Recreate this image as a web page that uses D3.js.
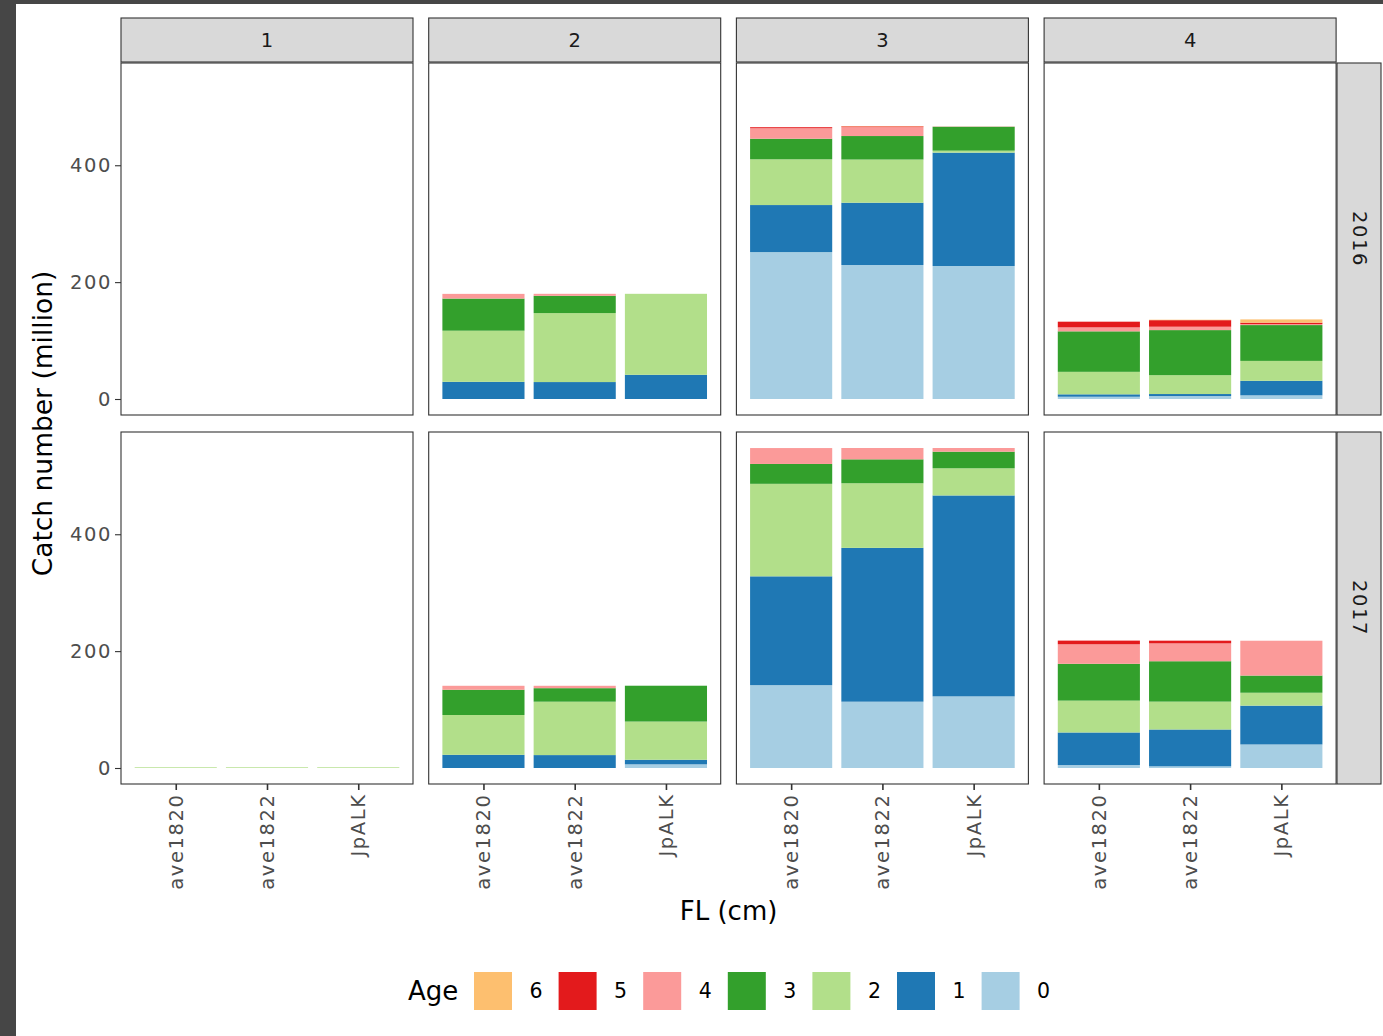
<!DOCTYPE html>
<html>
<head>
<meta charset="utf-8">
<script src="https://cdn.jsdelivr.net/npm/d3@7"></script>
<style>
  html, body { margin: 0; padding: 0; background: #464646; }
  svg { display: block; }
  text { font-family: "DejaVu Sans", "Noto Sans CJK JP", sans-serif; }
</style>
</head>
<body>
<svg id="chart" width="1383" height="1036"></svg>
<script>
// Facets
const years = ["2016", "2017"];
const flBins = ["1", "2", "3", "4"];
const methods = ["ave1820", "ave1822", "JpALK"];
const ages = [0, 1, 2, 3, 4, 5, 6];
const ageColors = ["#A6CEE3", "#1F78B4", "#B2DF8A", "#33A02C", "#FB9A99", "#E31A1C", "#FDBF6F"];
const yTicks = [0, 200, 400];

// Catch number (million) by FL bin, then method, then age 0..6
const catch2016 = [
  [[0, 0, 0, 0, 0, 0, 0], [0, 0, 0, 0, 0, 0, 0], [0, 0, 0, 0, 0, 0, 0]],
  [[0, 29.4, 87.5, 55, 8, 0, 0], [0, 29, 118, 29.6, 3.4, 0, 0], [0, 41.4, 138.6, 0, 0, 0, 0]],
  [[251.4, 80.5, 78.3, 35.2, 18, 1.7, 0], [229.3, 106.6, 73.9, 40.2, 15.3, 1.2, 0.5], [227.6, 194, 3.4, 40.9, 0.5, 0, 0]],
  [[3.9, 4.1, 38.5, 69.3, 6.8, 9.7, 0], [5.1, 3.4, 32.3, 77.1, 5.8, 11.2, 0.8], [6.3, 24.9, 34, 61.3, 1.7, 2.4, 5.6]]
];
const catch2017 = [
  [[0, 0, 1.2, 0, 0, 0, 0], [0, 0, 1.2, 0, 0, 0, 0], [0, 0, 1.2, 0, 0, 0, 0]],
  [[0, 22.6, 68.1, 43.2, 6.8, 0, 0], [0, 22.1, 91.4, 23.1, 4.1, 0, 0], [6.3, 7.8, 65.4, 61.3, 0, 0, 0]],
  [[141.8, 186.2, 158.3, 34, 27.2, 0, 0], [113.5, 263.2, 110.6, 40.9, 19.4, 0, 0], [122.6, 343.8, 46.5, 28.4, 6.3, 0, 0]],
  [[5.1, 55.7, 54.5, 63, 33.4, 6.3, 0], [2.9, 63, 47.7, 69.1, 30.6, 4.6, 0], [40.3, 66.4, 22.1, 29.4, 59.6, 0, 0]]
];
const catchByYear = [catch2016, catch2017];

// Layout
const svg = d3.select("#chart");
const plotLeft = 121, panelW = 292, colGap = 15.7;
const stripTop = 18, stripH = 44;
const rowTops = [63, 432], panelH = 352;
const rightStripX = 1337, rightStripW = 44;
const border = "#333333";
const smallFont = 19.5, spacing = 1.6;

svg.append("rect").attr("x", 16).attr("y", 4).attr("width", 1383 - 16).attr("height", 1036 - 4).attr("fill", "#ffffff");

// Shared y scale with 5% expansion on both sides of [0, max stacked total]
const totals = catchByYear.flatMap(yr => yr.flatMap(fl => fl.map(m => d3.sum(m))));
const maxTotal = d3.max(totals);
const pad = maxTotal * 0.05;
const yDomain = [-pad, maxTotal + pad];

const colX = i => plotLeft + i * (panelW + colGap);

// Top strips
flBins.forEach((fl, c) => {
  const g = svg.append("g");
  g.append("rect").attr("x", colX(c)).attr("y", stripTop).attr("width", panelW).attr("height", stripH)
    .attr("fill", "#D9D9D9").attr("stroke", border).attr("stroke-width", 1.1);
  g.append("text").attr("x", colX(c) + panelW / 2).attr("y", stripTop + stripH / 2)
    .attr("text-anchor", "middle").attr("dominant-baseline", "central")
    .attr("font-size", smallFont).attr("fill", "#1A1A1A").text(fl);
});

years.forEach((yr, r) => {
  const top = rowTops[r];
  const y = d3.scaleLinear().domain(yDomain).range([top + panelH, top]);

  // Right strip
  svg.append("rect").attr("x", rightStripX).attr("y", top).attr("width", rightStripW).attr("height", panelH)
    .attr("fill", "#D9D9D9").attr("stroke", border).attr("stroke-width", 1.1);
  svg.append("text")
    .attr("transform", `translate(${rightStripX + rightStripW / 2},${top + panelH / 2}) rotate(90)`)
    .attr("text-anchor", "middle").attr("dominant-baseline", "central")
    .attr("font-size", smallFont).attr("letter-spacing", spacing).attr("fill", "#1A1A1A").text(yr);

  // Y axis on the first column
  const yAxis = d3.axisLeft(y).tickValues(yTicks).tickSize(6).tickPadding(3);
  const ga = svg.append("g").attr("transform", `translate(${plotLeft},0)`).call(yAxis);
  ga.select(".domain").remove();
  ga.selectAll(".tick line").attr("stroke", border).attr("stroke-width", 1.1);
  ga.selectAll(".tick text").attr("font-size", smallFont).attr("fill", "#4D4D4D")
    .attr("font-family", "\"DejaVu Sans\", sans-serif").attr("letter-spacing", spacing);

  flBins.forEach((fl, c) => {
    const left = colX(c);
    const x = d3.scaleLinear().domain([0.4, 3.6]).range([left, left + panelW]);
    const g = svg.append("g");
    g.append("rect").attr("x", left).attr("y", top).attr("width", panelW).attr("height", panelH).attr("fill", "#ffffff");

    const rows = methods.map((m, i) => {
      const o = { method: m, idx: i + 1 };
      ages.forEach(a => { o["a" + a] = catchByYear[r][c][i][a]; });
      return o;
    });
    const stack = d3.stack().keys(ages.map(a => "a" + a))(rows);
    stack.forEach((layer, k) => {
      g.selectAll(null).data(layer.filter(d => d[1] - d[0] > 0)).enter().append("rect")
        .attr("x", d => x(d.data.idx - 0.45))
        .attr("width", d => x(d.data.idx + 0.45) - x(d.data.idx - 0.45))
        .attr("y", d => y(d[1]))
        .attr("height", d => y(d[0]) - y(d[1]))
        .attr("fill", ageColors[k]);
    });

    g.append("rect").attr("x", left).attr("y", top).attr("width", panelW).attr("height", panelH)
      .attr("fill", "none").attr("stroke", border).attr("stroke-width", 1.1);

    // X axis on the bottom row
    if (r === years.length - 1) {
      const xa = d3.axisBottom(x).tickValues([1, 2, 3]).tickFormat(v => methods[v - 1]).tickSize(6).tickPadding(4);
      const gx = svg.append("g").attr("transform", `translate(0,${top + panelH})`).call(xa);
      gx.select(".domain").remove();
      gx.selectAll(".tick line").attr("stroke", border).attr("stroke-width", 1.6);
      gx.selectAll(".tick text")
        .attr("font-size", smallFont).attr("fill", "#4D4D4D").attr("letter-spacing", spacing)
        .attr("font-family", "\"DejaVu Sans\", sans-serif")
        .attr("transform", "rotate(-90)")
        .attr("text-anchor", "end").attr("dominant-baseline", "central")
        .attr("x", -11 + spacing).attr("y", 0).attr("dy", null);
    }
  });
});

// Axis titles
svg.append("text")
  .attr("transform", `translate(42,${(rowTops[0] + rowTops[1] + panelH) / 2}) rotate(-90)`)
  .attr("text-anchor", "middle").attr("dominant-baseline", "central")
  .attr("font-size", 26.5).attr("fill", "#000").text("Catch number (million)");
svg.append("text")
  .attr("x", (plotLeft + colX(3) + panelW) / 2).attr("y", 920)
  .attr("text-anchor", "middle").attr("font-size", 26).attr("fill", "#000").text("FL (cm)");

// Legend (oldest age first)
const legendAges = ages.slice().reverse();
const lg = svg.append("g");
lg.append("text").attr("x", 408).attr("y", 1000).attr("font-size", 26).attr("fill", "#000").text("Age");
legendAges.forEach((a, i) => {
  const kx = 474 + i * 84.6;
  lg.append("rect").attr("x", kx).attr("y", 972).attr("width", 38).attr("height", 38).attr("fill", ageColors[a]);
  lg.append("text").attr("x", kx + 62).attr("y", 991).attr("text-anchor", "middle")
    .attr("dominant-baseline", "central").attr("font-size", smallFont + 1).attr("fill", "#000").text(a);
});
</script>
</body>
</html>
